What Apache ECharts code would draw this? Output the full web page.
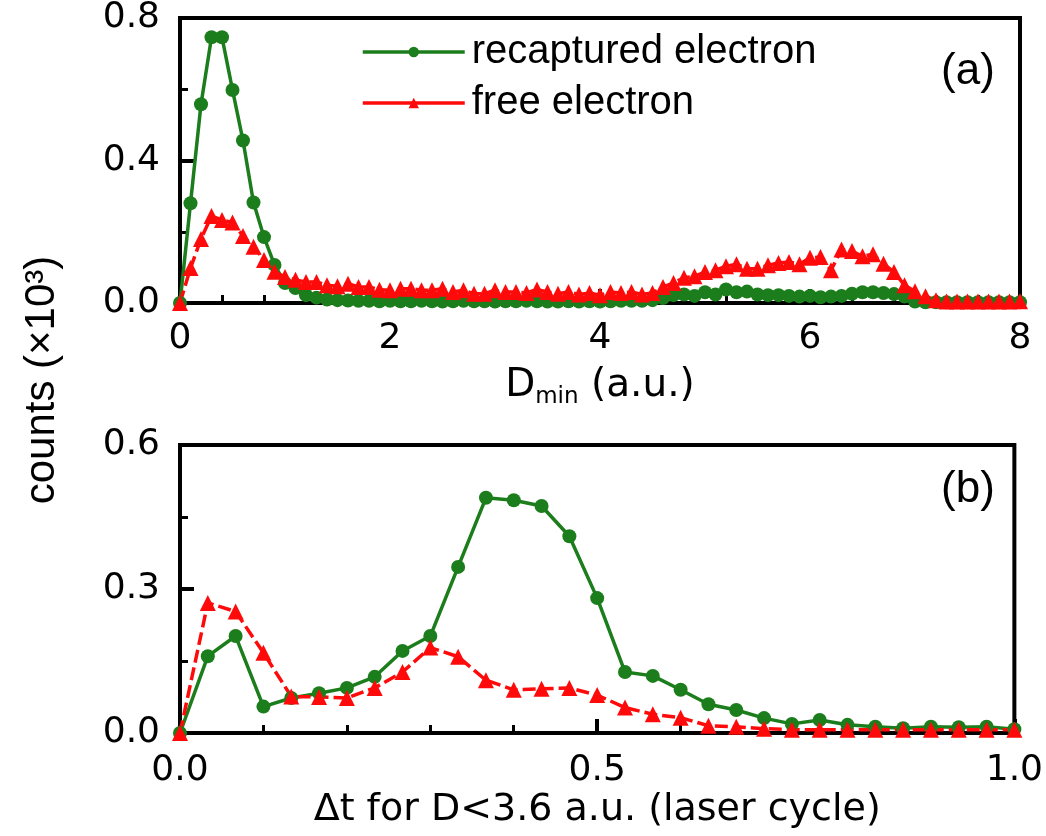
<!DOCTYPE html>
<html>
<head>
<meta charset="utf-8">
<script src="https://cdn.jsdelivr.net/npm/echarts@6/dist/echarts.min.js"></script>
<style>
  html, body { margin: 0; padding: 0; background: #ffffff; }
  #chart { width: 1046px; height: 836px; }
</style>
</head>
<body>
<div id="chart"></div>
<script>
// Sampling steps of the two histograms
const dStep = 0.1;        // D_min bin width (a.u.)
const tStep = 1 / 30;     // Δt bin width (laser cycle)

// Panel (a): counts (×10^3) versus D_min, bins 0.0 … 8.0
const recapturedD = [
  0.000, 0.280, 0.558, 0.746, 0.746, 0.598, 0.456, 0.282, 0.185, 0.107,
  0.056, 0.042, 0.022, 0.015, 0.010, 0.008, 0.007, 0.006, 0.006, 0.005,
  0.006, 0.005, 0.005, 0.006, 0.005, 0.004, 0.005, 0.006, 0.005, 0.005,
  0.004, 0.005, 0.005, 0.006, 0.005, 0.004, 0.004, 0.005, 0.004, 0.005,
  0.004, 0.005, 0.006, 0.006, 0.006, 0.008, 0.014, 0.022, 0.024, 0.020,
  0.030, 0.024, 0.038, 0.030, 0.032, 0.024, 0.022, 0.022, 0.020, 0.018,
  0.020, 0.016, 0.018, 0.020, 0.026, 0.030, 0.030, 0.028, 0.025, 0.018,
  0.004, 0.002, 0.002, 0.002, 0.002, 0.002, 0.002, 0.002, 0.002, 0.002,
  0.002
];
const freeD = [
  0.000, 0.098, 0.180, 0.244, 0.233, 0.226, 0.188, 0.158, 0.121, 0.088,
  0.073, 0.065, 0.059, 0.059, 0.050, 0.047, 0.054, 0.045, 0.045, 0.037,
  0.036, 0.040, 0.040, 0.036, 0.036, 0.040, 0.031, 0.036, 0.026, 0.026,
  0.036, 0.031, 0.031, 0.028, 0.038, 0.031, 0.026, 0.031, 0.024, 0.028,
  0.022, 0.031, 0.028, 0.031, 0.024, 0.028, 0.045, 0.056, 0.071, 0.075,
  0.087, 0.092, 0.103, 0.109, 0.096, 0.096, 0.106, 0.112, 0.115, 0.109,
  0.127, 0.129, 0.092, 0.150, 0.146, 0.131, 0.137, 0.110, 0.087, 0.050,
  0.033, 0.019, 0.008, 0.004, 0.004, 0.004, 0.004, 0.004, 0.004, 0.004,
  0.005
];

// Panel (b): counts (×10^3) versus Δt for D < 3.6 a.u., bins 0 … 1 cycle
const recapturedT = [
  0.000, 0.160, 0.202, 0.055, 0.073, 0.083, 0.094, 0.117, 0.171, 0.202,
  0.346, 0.490, 0.485, 0.473, 0.410, 0.281, 0.127, 0.119, 0.090, 0.060,
  0.048, 0.031, 0.019, 0.027, 0.017, 0.013, 0.010, 0.013, 0.012, 0.013,
  0.008
];
const freeT = [
  0.000, 0.271, 0.253, 0.167, 0.076, 0.075, 0.073, 0.094, 0.127, 0.178,
  0.159, 0.110, 0.090, 0.092, 0.094, 0.079, 0.053, 0.039, 0.032, 0.015,
  0.013, 0.009, 0.007, 0.007, 0.007, 0.007, 0.007, 0.007, 0.007, 0.007,
  0.007
];

// Tick labels
const dTicks = ['0', '2', '4', '6', '8'];
const tTicks = ['0.0', '0.5', '1.0'];
const countTicksA = ['0.0', '0.4', '0.8'];
const countTicksB = ['0.0', '0.3', '0.6'];

const GREEN = '#1b7d1b';
const RED = '#ff0a0a';
const TICK_FONT = 'DejaVu Sans';
const TEXT_FONT = 'Liberation Sans';
const AXIS_W = 4;

function pairs(values, step) {
  return values.map((v, i) => [i * step, v]);
}

function tickFormatter(labels, interval) {
  return v => labels[Math.round(v / interval)] ?? '';
}

function xAxisBase(gridIndex, max, interval, labels, margin) {
  return {
    type: 'value', gridIndex, min: 0, max, interval,
    axisLine: { show: true, onZero: false, lineStyle: { color: '#000', width: AXIS_W } },
    axisTick: { show: true, inside: true, length: 14, lineStyle: { color: '#000', width: AXIS_W } },
    minorTick: { show: true, splitNumber: 5, length: 8, lineStyle: { color: '#000', width: 3 } },
    splitLine: { show: false },
    axisLabel: {
      color: '#000', fontFamily: TICK_FONT, fontSize: 36, margin,
      showMinLabel: true, showMaxLabel: true,
      formatter: tickFormatter(labels, interval)
    }
  };
}

function yAxisBase(gridIndex, max, interval, labels) {
  return {
    type: 'value', gridIndex, min: 0, max, interval,
    axisLine: { show: true, onZero: false, lineStyle: { color: '#000', width: AXIS_W } },
    axisTick: { show: true, inside: true, length: 14, lineStyle: { color: '#000', width: AXIS_W } },
    minorTick: { show: true, splitNumber: 2, length: 8, lineStyle: { color: '#000', width: 3 } },
    splitLine: { show: false },
    axisLabel: {
      color: '#000', fontFamily: TICK_FONT, fontSize: 36, margin: 20,
      showMinLabel: true, showMaxLabel: true,
      formatter: tickFormatter(labels, interval)
    }
  };
}

function lineSeries(name, data, xi, symbol, size, color, dashed) {
  return {
    name, type: 'line', xAxisIndex: xi, yAxisIndex: xi, data,
    symbol, symbolSize: size, showAllSymbol: true,
    itemStyle: { color },
    lineStyle: { color, width: 3.5, type: dashed ? [13, 5] : 'solid' },
    clip: true
  };
}

const chart = echarts.init(document.getElementById('chart'), null, { renderer: 'canvas' });

const xA = xAxisBase(0, 8, 2, dTicks, 18);
xA.name = '{d|D}{s|min}{d| (a.u.)}';
xA.nameLocation = 'middle';
xA.nameGap = 58;
xA.nameTextStyle = {
  color: '#000',
  rich: {
    d: { fontFamily: TICK_FONT, fontSize: 39, color: '#000', lineHeight: 46, verticalAlign: 'middle' },
    s: { fontFamily: TICK_FONT, fontSize: 23, color: '#000', lineHeight: 46, verticalAlign: 'bottom', padding: [28, 0, 0, 0] }
  }
};

const xB = xAxisBase(1, 1, 0.5, tTicks, 20);
xB.name = 'Δt for D<3.6 a.u. (laser cycle)';
xB.nameLocation = 'middle';
xB.nameGap = 58;
xB.nameTextStyle = { color: '#000', fontFamily: TICK_FONT, fontSize: 38 };

const option = {
  animation: false,
  backgroundColor: '#ffffff',
  grid: [
    { left: 180, top: 17, width: 840, height: 286, show: true, borderColor: '#000', borderWidth: AXIS_W, backgroundColor: 'transparent' },
    { left: 180, top: 445, width: 840, height: 288, show: true, borderColor: '#000', borderWidth: AXIS_W, backgroundColor: 'transparent' }
  ],
  xAxis: [xA, xB],
  yAxis: [
    yAxisBase(0, 0.8, 0.4, countTicksA),
    yAxisBase(1, 0.6, 0.3, countTicksB)
  ],
  legend: {
    orient: 'vertical', left: 356, top: 25,
    itemWidth: 102, itemHeight: 13, itemGap: 7,
    data: ['recaptured electron', 'free electron'],
    lineStyle: { type: 'solid', width: 3.5 },
    textStyle: { color: '#000', fontFamily: TEXT_FONT, fontSize: 40, lineHeight: 44, padding: [0, 0, 0, 2] }
  },
  graphic: [
    {
      type: 'text', x: 42, y: 380, rotation: Math.PI / 2,
      style: { text: 'counts (×10³)', fill: '#000', font: '42px "Liberation Sans"', textAlign: 'center', textVerticalAlign: 'middle' }
    },
    {
      type: 'text', x: 968, y: 72,
      style: { text: '(a)', fill: '#000', font: '44px "Liberation Sans"', textAlign: 'center', textVerticalAlign: 'middle' }
    },
    {
      type: 'text', x: 968, y: 490,
      style: { text: '(b)', fill: '#000', font: '44px "Liberation Sans"', textAlign: 'center', textVerticalAlign: 'middle' }
    }
  ],
  series: [
    lineSeries('recaptured electron', pairs(recapturedD, dStep), 0, 'circle', 14, GREEN, false),
    lineSeries('free electron', pairs(freeD, dStep), 0, 'triangle', 16, RED, true),
    lineSeries('recaptured electron', pairs(recapturedT, tStep), 1, 'circle', 14, GREEN, false),
    lineSeries('free electron', pairs(freeT, tStep), 1, 'triangle', 16, RED, true)
  ]
};

chart.setOption(option);
</script>
</body>
</html>
